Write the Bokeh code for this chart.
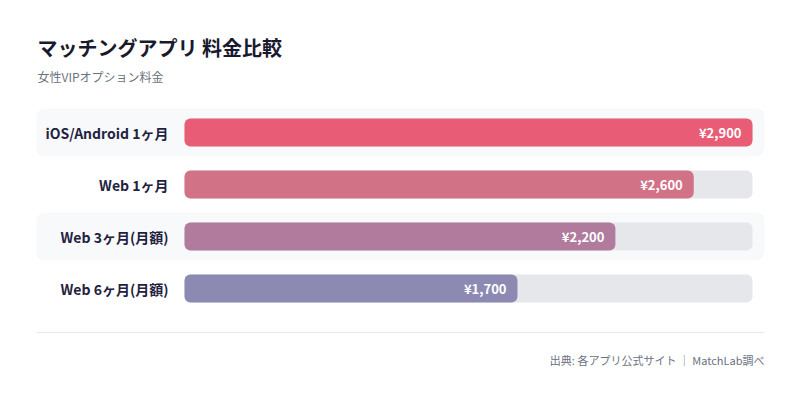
from bokeh.plotting import figure
from bokeh.models import ColumnDataSource, Range1d
from bokeh.core.properties import value
from bokeh.embed import file_html
from bokeh.resources import INLINE

# ---- data ----
categories = ["iOS/Android 1ヶ月", "Web 1ヶ月", "Web 3ヶ月(月額)", "Web 6ヶ月(月額)"]
prices = [2900, 2600, 2200, 1700]
bar_colors = ["#e85c75", "#d27287", "#b07b9d", "#8c8ab3"]
title_text = "マッチングアプリ 料金比較"
subtitle_text = "女性VIPオプション料金"
footer_text = "出典: 各アプリ公式サイト ｜ MatchLab調べ"

FONT = "Noto Sans CJK JP"
W, H = 784, 385

# layout constants (pixels inside the figure)
X0PX, XMAXPX = 184, 752
ROW0PX, PITCH = 132, 52
VMAX = max(prices)
upp = VMAX / (XMAXPX - X0PX)


def px_x(px):
    return (px - X0PX) * upp


def px_y(py):
    return (py - ROW0PX) / PITCH


idx = list(range(len(categories)))
src = ColumnDataSource(dict(
    idx=idx,
    name=categories,
    price=prices,
    color=bar_colors,
    vlabel=["¥{:,}".format(v) for v in prices],
    track=[VMAX] * len(prices),
))

p = figure(width=W, height=H, output_backend="svg", toolbar_location=None,
           x_range=Range1d(px_x(0), px_x(W)),
           y_range=Range1d(px_y(H), px_y(0)),
           min_border=0, outline_line_color=None,
           background_fill_color="white", border_fill_color="white")
p.axis.visible = False
p.grid.visible = False

# alternating row bands
band_rows = [i for i in idx if i % 2 == 0]
p.hbar(y=band_rows, left=px_x(36), right=px_x(764), height=48 / PITCH,
       fill_color="#f8f9fb", line_color=None, border_radius=8)

# tracks
p.hbar(y="idx", left=0, right="track", height=28 / PITCH, source=src,
       fill_color="#e5e7eb", line_color=None, border_radius=6)
# bars
p.hbar(y="idx", left=0, right="price", height=28 / PITCH, source=src,
       fill_color="color", line_color=None, border_radius=6)

# value labels
p.text(x="price", y="idx", text="vlabel", source=src, x_offset=-11,
       text_align="right", text_baseline="middle", text_color="white",
       text_font=value(FONT), text_font_style="bold", text_font_size="13px")

# category labels
p.text(x=px_x(168), y="idx", text="name", source=src,
       text_align="right", text_baseline="middle", text_color="#1f2340",
       text_font=value(FONT), text_font_style="bold", text_font_size="14px")

# title / subtitle
p.text(x=[px_x(37)], y=[px_y(47)], text=[title_text], text_align="left",
       text_baseline="middle", text_color="#1a1a2e", text_font=value(FONT),
       text_font_style="bold", text_font_size="20px")
p.text(x=[px_x(37)], y=[px_y(76)], text=[subtitle_text], text_align="left",
       text_baseline="middle", text_color="#6b7280", text_font=value(FONT),
       text_font_size="12px")

# separator
p.segment(x0=[px_x(36)], x1=[px_x(764)], y0=[px_y(332)], y1=[px_y(332)],
          line_color="#e5e7eb", line_width=1)

# footer
p.text(x=[px_x(764)], y=[px_y(359)], text=[footer_text], text_align="right",
       text_baseline="middle", text_color="#6b7280", text_font=value(FONT),
       text_font_size="11px")

open("out.html", "w").write(file_html(p, INLINE))
